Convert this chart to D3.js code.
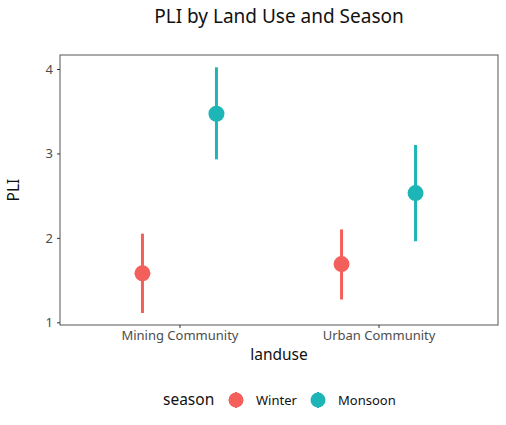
<!DOCTYPE html>
<html>
<head>
<meta charset="utf-8">
<script src="https://cdn.jsdelivr.net/npm/d3@7"></script>
<style>
  body { margin: 0; background: #fff; }
  svg { font-family: "Noto Sans", Lato, sans-serif; }
</style>
</head>
<body>
<svg id="chart" width="506" height="425"></svg>
<script>
// 数据
const landuse = ['Mining Community', 'Urban Community'];
const seasons = ['Winter', 'Monsoon'];
const seasonColors = ['#F35F5B', '#1DB5B6'];
const meanWinter = [1.58, 1.69];
const lowWinter = [1.11, 1.27];
const highWinter = [2.05, 2.10];
const meanMonsoon = [3.47, 2.53];
const lowMonsoon = [2.93, 1.96];
const highMonsoon = [4.02, 3.10];
const yTicks = [1, 2, 3, 4];

const rows = [];
landuse.forEach((lu, i) => {
    rows.push({ landuse: lu, season: 'Winter', mean: meanWinter[i], lo: lowWinter[i], hi: highWinter[i] });
    rows.push({ landuse: lu, season: 'Monsoon', mean: meanMonsoon[i], lo: lowMonsoon[i], hi: highMonsoon[i] });
});

const svg = d3.select('#chart');
const panel = { left: 60, right: 498, top: 55, bottom: 325 };
const fontFamily = '"Noto Sans", Lato, sans-serif';

// 比例尺
const x = d3.scalePoint()
    .domain(landuse)
    .range([panel.left, panel.right])
    .padding(0.6);
const y = d3.scaleLinear()
    .domain([0.968, 4.166])
    .range([panel.bottom, panel.top]);
const color = d3.scaleOrdinal().domain(seasons).range(seasonColors);
const dodge = d3.scalePoint().domain(seasons).range([-37, 37]);

// 面板边框
svg.append('rect')
    .attr('x', panel.left).attr('y', panel.top)
    .attr('width', panel.right - panel.left)
    .attr('height', panel.bottom - panel.top)
    .attr('fill', 'none')
    .attr('stroke', '#555')
    .attr('stroke-width', 1);

// 坐标轴
const yAxis = svg.append('g')
    .attr('transform', `translate(${panel.left},0)`)
    .call(d3.axisLeft(y).tickValues(yTicks).tickFormat(d3.format('d')).tickSize(3).tickPadding(4));
const xAxis = svg.append('g')
    .attr('transform', `translate(0,${panel.bottom})`)
    .call(d3.axisBottom(x).tickSize(3).tickPadding(3));
[xAxis, yAxis].forEach(ax => {
    ax.select('.domain').remove();
    ax.selectAll('line').attr('stroke', '#333');
    ax.selectAll('text')
        .attr('fill', '#4d4d4d')
        .attr('font-size', '13px')
        .style('font-family', fontFamily);
});

// 误差线
svg.append('g')
    .selectAll('line')
    .data(rows)
    .join('line')
    .attr('x1', d => x(d.landuse) + dodge(d.season))
    .attr('x2', d => x(d.landuse) + dodge(d.season))
    .attr('y1', d => y(d.lo))
    .attr('y2', d => y(d.hi))
    .attr('stroke', d => color(d.season))
    .attr('stroke-width', 3);

// 均值点
svg.append('g')
    .selectAll('circle')
    .data(rows)
    .join('circle')
    .attr('cx', d => x(d.landuse) + dodge(d.season))
    .attr('cy', d => y(d.mean))
    .attr('r', 8)
    .attr('fill', d => color(d.season));

// 标题
svg.append('text')
    .attr('x', (panel.left + panel.right) / 2)
    .attr('y', 23)
    .attr('text-anchor', 'middle')
    .attr('font-size', '19px')
    .attr('fill', '#111')
    .text('PLI by Land Use and Season');

svg.append('text')
    .attr('x', (panel.left + panel.right) / 2)
    .attr('y', 360)
    .attr('text-anchor', 'middle')
    .attr('font-size', '15.5px')
    .attr('fill', '#111')
    .text('landuse');

svg.append('text')
    .attr('transform', `translate(19,${(panel.top + panel.bottom) / 2}) rotate(-90)`)
    .attr('text-anchor', 'middle')
    .attr('font-size', '15.5px')
    .attr('fill', '#111')
    .text('PLI');

// 图例
const legendY = 400;
svg.append('text')
    .attr('x', 163)
    .attr('y', legendY + 5)
    .attr('font-size', '15.5px')
    .attr('fill', '#111')
    .text('season');

const keyX = [236, 318];
const legend = svg.append('g')
    .selectAll('g')
    .data(seasons)
    .join('g')
    .attr('transform', (d, i) => `translate(${keyX[i]},${legendY})`);
legend.append('line')
    .attr('y1', -8).attr('y2', 8)
    .attr('stroke', d => color(d))
    .attr('stroke-width', 2);
legend.append('circle')
    .attr('r', 7.5)
    .attr('fill', d => color(d));
legend.append('text')
    .attr('x', 20)
    .attr('y', 4.5)
    .attr('font-size', '13px')
    .attr('fill', '#111')
    .text(d => d);
</script>
</body>
</html>
